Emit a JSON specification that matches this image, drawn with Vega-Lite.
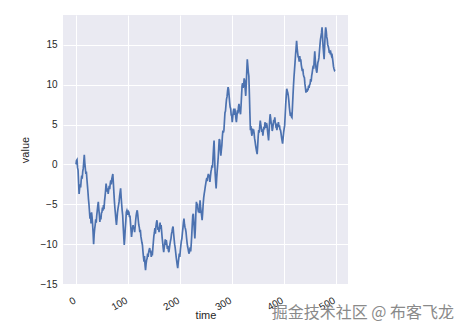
{
"$schema": "https://vega.github.io/schema/vega-lite/v6.json",
"width": 285, "height": 269,
"autosize": {"type": "none"},
"padding": {"left": 63, "top": 15, "right": 118, "bottom": 50},
"background": "white",
"title": {"text": "掘金技术社区 @ 布客飞龙", "orient": "bottom", "anchor": "end", "frame": "group", "font": "Noto Sans CJK SC", "fontSize": 16, "fontWeight": "normal", "color": "#8a8a8a", "dx": 106, "dy": -19},
"data": {"values": [
{"time":0,"value":0.0},{"time":1,"value":0.5},{"time":2,"value":0.6},{"time":3,"value":-0.4},{"time":4,"value":-0.7},{"time":5,"value":-2.2},{"time":6,"value":-3.7},{"time":7,"value":-3.0},{"time":8,"value":-2.5},{"time":9,"value":-2.9},
{"time":10,"value":-2.0},{"time":11,"value":-1.4},{"time":12,"value":-1.8},{"time":13,"value":-0.9},{"time":14,"value":-0.5},{"time":15,"value":0.3},{"time":16,"value":1.2},{"time":17,"value":0.2},{"time":18,"value":-0.5},{"time":19,"value":-1.2},
{"time":20,"value":-0.9},{"time":21,"value":-1.8},{"time":22,"value":-2.6},{"time":23,"value":-3.4},{"time":24,"value":-4.3},{"time":25,"value":-5.0},{"time":26,"value":-5.9},{"time":27,"value":-6.8},{"time":28,"value":-6.1},{"time":29,"value":-7.4},
{"time":30,"value":-6.0},{"time":31,"value":-6.6},{"time":32,"value":-7.5},{"time":33,"value":-8.6},{"time":34,"value":-10.0},{"time":35,"value":-8.8},{"time":36,"value":-8.1},{"time":37,"value":-7.6},{"time":38,"value":-6.9},{"time":39,"value":-7.3},
{"time":40,"value":-6.4},{"time":41,"value":-5.8},{"time":42,"value":-5.2},{"time":43,"value":-4.7},{"time":44,"value":-5.6},{"time":45,"value":-6.3},{"time":46,"value":-7.2},{"time":47,"value":-6.5},{"time":48,"value":-6.9},{"time":49,"value":-6.1},
{"time":50,"value":-6.0},{"time":51,"value":-5.4},{"time":52,"value":-5.8},{"time":53,"value":-5.1},{"time":54,"value":-5.6},{"time":55,"value":-4.6},{"time":56,"value":-4.0},{"time":57,"value":-3.3},{"time":58,"value":-2.4},{"time":59,"value":-2.9},
{"time":60,"value":-3.4},{"time":61,"value":-3.0},{"time":62,"value":-3.7},{"time":63,"value":-3.2},{"time":64,"value":-2.7},{"time":65,"value":-3.1},{"time":66,"value":-2.4},{"time":67,"value":-2.0},{"time":68,"value":-2.5},{"time":69,"value":-1.8},
{"time":70,"value":-1.5},{"time":71,"value":-1.2},{"time":72,"value":-2.3},{"time":73,"value":-3.5},{"time":74,"value":-4.6},{"time":75,"value":-5.5},{"time":76,"value":-6.2},{"time":77,"value":-7.0},{"time":78,"value":-7.6},{"time":79,"value":-6.8},
{"time":80,"value":-6.0},{"time":81,"value":-5.5},{"time":82,"value":-5.1},{"time":83,"value":-4.7},{"time":84,"value":-4.0},{"time":85,"value":-3.5},{"time":86,"value":-3.0},{"time":87,"value":-4.1},{"time":88,"value":-5.0},{"time":89,"value":-5.8},
{"time":90,"value":-6.4},{"time":91,"value":-7.8},{"time":92,"value":-9.0},{"time":93,"value":-10.1},{"time":94,"value":-9.2},{"time":95,"value":-8.0},{"time":96,"value":-7.1},{"time":97,"value":-6.0},{"time":98,"value":-5.8},{"time":99,"value":-6.1},
{"time":100,"value":-6.3},{"time":101,"value":-5.9},{"time":102,"value":-6.0},{"time":103,"value":-6.6},{"time":104,"value":-6.4},{"time":105,"value":-7.3},{"time":106,"value":-8.2},{"time":107,"value":-9.1},{"time":108,"value":-8.5},{"time":109,"value":-8.0},
{"time":110,"value":-7.6},{"time":111,"value":-8.1},{"time":112,"value":-7.9},{"time":113,"value":-8.5},{"time":114,"value":-7.8},{"time":115,"value":-7.0},{"time":116,"value":-6.4},{"time":117,"value":-6.0},{"time":118,"value":-5.75},{"time":119,"value":-6.3},
{"time":120,"value":-7.0},{"time":121,"value":-7.6},{"time":122,"value":-7.9},{"time":123,"value":-8.5},{"time":124,"value":-8.2},{"time":125,"value":-9.0},{"time":126,"value":-9.4},{"time":127,"value":-9.8},{"time":128,"value":-10.1},{"time":129,"value":-10.9},
{"time":130,"value":-11.6},{"time":131,"value":-12.2},{"time":132,"value":-11.5},{"time":133,"value":-12.6},{"time":134,"value":-13.25},{"time":135,"value":-12.5},{"time":136,"value":-12.0},{"time":137,"value":-11.8},{"time":138,"value":-11.2},{"time":139,"value":-11.6},
{"time":140,"value":-11.0},{"time":141,"value":-10.7},{"time":142,"value":-10.5},{"time":143,"value":-11.0},{"time":144,"value":-10.8},{"time":145,"value":-11.6},{"time":146,"value":-11.2},{"time":147,"value":-11.4},{"time":148,"value":-10.6},{"time":149,"value":-9.8},
{"time":150,"value":-9.0},{"time":151,"value":-8.6},{"time":152,"value":-8.0},{"time":153,"value":-8.7},{"time":154,"value":-7.8},{"time":155,"value":-7.3},{"time":156,"value":-7.0},{"time":157,"value":-7.6},{"time":158,"value":-8.2},{"time":159,"value":-7.9},
{"time":160,"value":-8.5},{"time":161,"value":-8.0},{"time":162,"value":-7.3},{"time":163,"value":-8.1},{"time":164,"value":-7.6},{"time":165,"value":-8.4},{"time":166,"value":-9.2},{"time":167,"value":-9.8},{"time":168,"value":-10.5},{"time":169,"value":-11.0},
{"time":170,"value":-10.4},{"time":171,"value":-10.0},{"time":172,"value":-9.4},{"time":173,"value":-10.1},{"time":174,"value":-9.5},{"time":175,"value":-10.0},{"time":176,"value":-10.6},{"time":177,"value":-10.2},{"time":178,"value":-10.8},{"time":179,"value":-11.0},
{"time":180,"value":-10.5},{"time":181,"value":-10.0},{"time":182,"value":-9.6},{"time":183,"value":-9.3},{"time":184,"value":-8.7},{"time":185,"value":-8.4},{"time":186,"value":-8.0},{"time":187,"value":-7.8},{"time":188,"value":-8.6},{"time":189,"value":-9.3},
{"time":190,"value":-10.0},{"time":191,"value":-10.4},{"time":192,"value":-11.0},{"time":193,"value":-11.6},{"time":194,"value":-12.1},{"time":195,"value":-12.6},{"time":196,"value":-13.0},{"time":197,"value":-12.3},{"time":198,"value":-11.8},{"time":199,"value":-11.2},
{"time":200,"value":-11.6},{"time":201,"value":-10.8},{"time":202,"value":-10.2},{"time":203,"value":-9.6},{"time":204,"value":-9.3},{"time":205,"value":-8.6},{"time":206,"value":-8.0},{"time":207,"value":-7.3},{"time":208,"value":-6.8},{"time":209,"value":-7.5},
{"time":210,"value":-7.9},{"time":211,"value":-8.1},{"time":212,"value":-8.5},{"time":213,"value":-9.2},{"time":214,"value":-9.8},{"time":215,"value":-10.3},{"time":216,"value":-10.6},{"time":217,"value":-11.0},{"time":218,"value":-11.2},{"time":219,"value":-10.8},
{"time":220,"value":-10.4},{"time":221,"value":-10.9},{"time":222,"value":-10.0},{"time":223,"value":-8.9},{"time":224,"value":-7.5},{"time":225,"value":-6.4},{"time":226,"value":-6.2},{"time":227,"value":-7.2},{"time":228,"value":-8.3},{"time":229,"value":-9.3},
{"time":230,"value":-8.0},{"time":231,"value":-6.0},{"time":232,"value":-4.7},{"time":233,"value":-5.3},{"time":234,"value":-4.9},{"time":235,"value":-5.6},{"time":236,"value":-6.0},{"time":237,"value":-5.5},{"time":238,"value":-6.1},{"time":239,"value":-4.5},
{"time":240,"value":-5.3},{"time":241,"value":-5.9},{"time":242,"value":-6.4},{"time":243,"value":-7.0},{"time":244,"value":-6.1},{"time":245,"value":-5.0},{"time":246,"value":-4.2},{"time":247,"value":-3.7},{"time":248,"value":-3.3},{"time":249,"value":-2.8},
{"time":250,"value":-2.4},{"time":251,"value":-2.0},{"time":252,"value":-1.7},{"time":253,"value":-2.1},{"time":254,"value":-1.5},{"time":255,"value":-1.2},{"time":256,"value":-1.6},{"time":257,"value":-1.3},{"time":258,"value":-2.2},{"time":259,"value":-1.5},
{"time":260,"value":-0.9},{"time":261,"value":-0.6},{"time":262,"value":-0.1},{"time":263,"value":-0.4},{"time":264,"value":0.8},{"time":265,"value":2.0},{"time":266,"value":3.0},{"time":267,"value":1.0},{"time":268,"value":-1.0},{"time":269,"value":-2.1},
{"time":270,"value":-3.0},{"time":271,"value":-1.8},{"time":272,"value":-0.8},{"time":273,"value":0.0},{"time":274,"value":0.9},{"time":275,"value":2.1},{"time":276,"value":3.2},{"time":277,"value":3.0},{"time":278,"value":1.9},{"time":279,"value":1.1},
{"time":280,"value":1.8},{"time":281,"value":2.4},{"time":282,"value":3.5},{"time":283,"value":4.25},{"time":284,"value":4.0},{"time":285,"value":4.3},{"time":286,"value":5.4},{"time":287,"value":6.5},{"time":288,"value":6.7},{"time":289,"value":7.5},
{"time":290,"value":8.2},{"time":291,"value":8.5},{"time":292,"value":9.2},{"time":293,"value":9.7},{"time":294,"value":9.4},{"time":295,"value":8.6},{"time":296,"value":7.8},{"time":297,"value":7.2},{"time":298,"value":7.0},{"time":299,"value":6.2},
{"time":300,"value":6.1},{"time":301,"value":5.3},{"time":302,"value":6.0},{"time":303,"value":6.6},{"time":304,"value":7.0},{"time":305,"value":6.2},{"time":306,"value":7.0},{"time":307,"value":6.5},{"time":308,"value":5.8},{"time":309,"value":5.3},
{"time":310,"value":6.0},{"time":311,"value":6.8},{"time":312,"value":6.4},{"time":313,"value":7.2},{"time":314,"value":7.6},{"time":315,"value":6.9},{"time":316,"value":6.6},{"time":317,"value":6.3},{"time":318,"value":7.4},{"time":319,"value":8.7},
{"time":320,"value":9.9},{"time":321,"value":10.2},{"time":322,"value":9.6},{"time":323,"value":10.0},{"time":324,"value":10.8},{"time":325,"value":10.5},{"time":326,"value":9.4},{"time":327,"value":8.6},{"time":328,"value":10.0},{"time":329,"value":11.7},
{"time":330,"value":13.2},{"time":331,"value":12.4},{"time":332,"value":11.6},{"time":333,"value":11.1},{"time":334,"value":8.9},{"time":335,"value":6.5},{"time":336,"value":4.3},{"time":337,"value":4.8},{"time":338,"value":4.0},{"time":339,"value":3.6},
{"time":340,"value":4.5},{"time":341,"value":3.9},{"time":342,"value":4.4},{"time":343,"value":4.0},{"time":344,"value":3.3},{"time":345,"value":2.9},{"time":346,"value":2.4},{"time":347,"value":2.0},{"time":348,"value":1.6},{"time":349,"value":1.3},
{"time":350,"value":2.3},{"time":351,"value":3.5},{"time":352,"value":4.3},{"time":353,"value":4.0},{"time":354,"value":4.8},{"time":355,"value":5.5},{"time":356,"value":5.0},{"time":357,"value":4.6},{"time":358,"value":4.1},{"time":359,"value":4.4},
{"time":360,"value":3.6},{"time":361,"value":4.2},{"time":362,"value":4.7},{"time":363,"value":4.4},{"time":364,"value":5.3},{"time":365,"value":5.0},{"time":366,"value":4.6},{"time":367,"value":5.2},{"time":368,"value":4.9},{"time":369,"value":4.2},
{"time":370,"value":3.6},{"time":371,"value":3.0},{"time":372,"value":4.1},{"time":373,"value":5.4},{"time":374,"value":6.3},{"time":375,"value":5.8},{"time":376,"value":5.2},{"time":377,"value":5.0},{"time":378,"value":4.2},{"time":379,"value":4.5},
{"time":380,"value":5.1},{"time":381,"value":5.6},{"time":382,"value":5.3},{"time":383,"value":5.9},{"time":384,"value":5.2},{"time":385,"value":4.8},{"time":386,"value":4.9},{"time":387,"value":4.3},{"time":388,"value":4.8},{"time":389,"value":5.0},
{"time":390,"value":5.3},{"time":391,"value":4.7},{"time":392,"value":4.9},{"time":393,"value":4.4},{"time":394,"value":4.3},{"time":395,"value":3.9},{"time":396,"value":3.4},{"time":397,"value":3.0},{"time":398,"value":2.6},{"time":399,"value":3.3},
{"time":400,"value":4.0},{"time":401,"value":4.5},{"time":402,"value":4.9},{"time":403,"value":6.2},{"time":404,"value":7.5},{"time":405,"value":8.6},{"time":406,"value":9.5},{"time":407,"value":9.2},{"time":408,"value":9.0},{"time":409,"value":8.6},
{"time":410,"value":8.0},{"time":411,"value":7.2},{"time":412,"value":6.6},{"time":413,"value":6.1},{"time":414,"value":6.5},{"time":415,"value":6.0},{"time":416,"value":5.9},{"time":417,"value":7.2},{"time":418,"value":8.6},{"time":419,"value":9.9},
{"time":420,"value":11.0},{"time":421,"value":11.9},{"time":422,"value":12.8},{"time":423,"value":13.8},{"time":424,"value":14.6},{"time":425,"value":15.5},{"time":426,"value":14.6},{"time":427,"value":14.0},{"time":428,"value":13.5},{"time":429,"value":13.4},
{"time":430,"value":12.9},{"time":431,"value":13.6},{"time":432,"value":13.0},{"time":433,"value":13.2},{"time":434,"value":12.5},{"time":435,"value":12.1},{"time":436,"value":11.7},{"time":437,"value":12.0},{"time":438,"value":11.3},{"time":439,"value":11.0},
{"time":440,"value":10.9},{"time":441,"value":10.1},{"time":442,"value":9.6},{"time":443,"value":9.0},{"time":444,"value":9.4},{"time":445,"value":9.1},{"time":446,"value":9.5},{"time":447,"value":9.3},{"time":448,"value":9.9},{"time":449,"value":9.6},
{"time":450,"value":10.0},{"time":451,"value":10.1},{"time":452,"value":10.7},{"time":453,"value":10.4},{"time":454,"value":11.1},{"time":455,"value":11.5},{"time":456,"value":12.0},{"time":457,"value":12.4},{"time":458,"value":12.0},{"time":459,"value":13.2},
{"time":460,"value":14.2},{"time":461,"value":13.1},{"time":462,"value":12.3},{"time":463,"value":11.8},{"time":464,"value":11.5},{"time":465,"value":12.2},{"time":466,"value":12.8},{"time":467,"value":13.0},{"time":468,"value":13.4},{"time":469,"value":14.2},
{"time":470,"value":15.0},{"time":471,"value":15.7},{"time":472,"value":16.1},{"time":473,"value":16.5},{"time":474,"value":17.2},{"time":475,"value":16.0},{"time":476,"value":14.8},{"time":477,"value":14.0},{"time":478,"value":13.2},{"time":479,"value":14.8},
{"time":480,"value":16.3},{"time":481,"value":17.2},{"time":482,"value":16.8},{"time":483,"value":16.0},{"time":484,"value":15.7},{"time":485,"value":15.0},{"time":486,"value":14.8},{"time":487,"value":14.5},{"time":488,"value":14.0},{"time":489,"value":14.3},
{"time":490,"value":13.8},{"time":491,"value":14.0},{"time":492,"value":13.7},{"time":493,"value":13.9},{"time":494,"value":13.4},{"time":495,"value":12.9},{"time":496,"value":12.3},{"time":497,"value":12.0},{"time":498,"value":11.8},{"time":499,"value":11.9}
]},
"mark": {"type": "line", "color": "#4C72B0", "strokeWidth": 1.7, "clip": true},
"encoding": {
  "x": {"field": "time", "type": "quantitative",
        "scale": {"domain": [-25, 524], "nice": false, "zero": false},
        "axis": {"values": [0, 100, 200, 300, 400, 500], "labelAngle": -30, "labelAlign": "right", "labelBaseline": "top", "labelPadding": 11, "labelOffset": -4, "title": "time", "titleY": 25, "titleBaseline": "top"}},
  "y": {"field": "value", "type": "quantitative",
        "scale": {"domain": [-15, 18.75], "nice": false, "zero": false},
        "axis": {"values": [-15, -10, -5, 0, 5, 10, 15], "title": "value", "titlePadding": 10}}
},
"config": {
  "view": {"fill": "#EAEAF2", "stroke": null},
  "axis": {"domain": false, "ticks": false, "grid": true, "gridColor": "white", "gridWidth": 1, "gridOpacity": 1,
           "labelColor": "#262626", "labelFont": "Liberation Sans", "labelFontSize": 10, "labelPadding": 6,
           "titleFont": "Liberation Sans", "titleFontSize": 11, "titleFontWeight": "normal", "titleColor": "#262626"}
}
}
